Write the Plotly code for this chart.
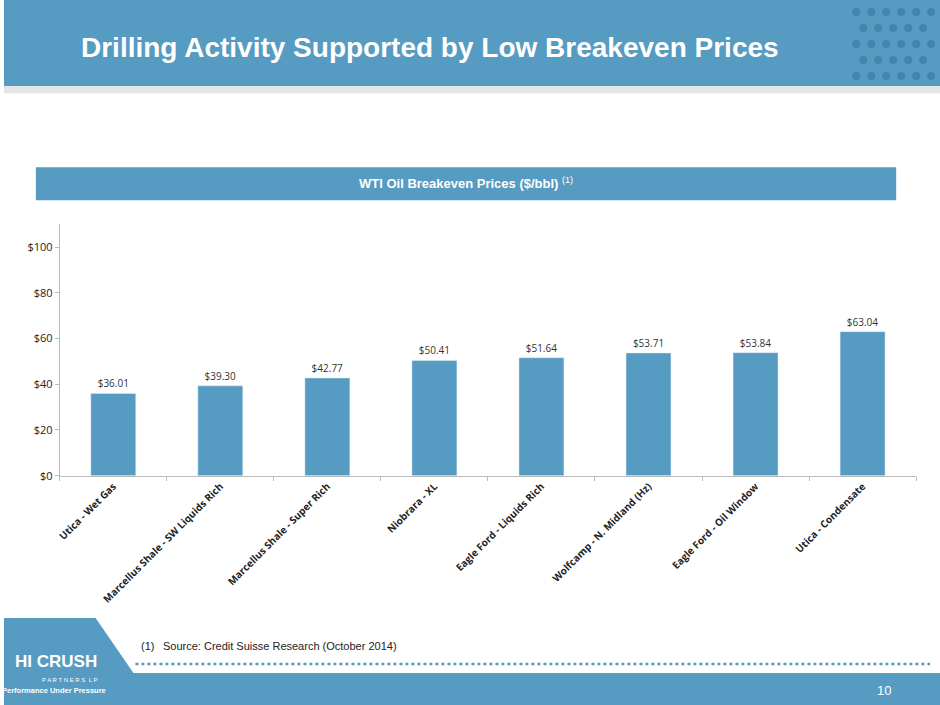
import plotly.graph_objects as go

categories = [
    "Utica - Wet Gas",
    "Marcellus Shale - SW Liquids Rich",
    "Marcellus Shale - Super Rich",
    "Niobrara - XL",
    "Eagle Ford - Liquids Rich",
    "Wolfcamp - N. Midland (Hz)",
    "Eagle Ford - Oil Window",
    "Utica - Condensate",
]
prices = [36.01, 39.30, 42.77, 50.41, 51.64, 53.71, 53.84, 63.04]
y_ticks = [0, 20, 40, 60, 80, 100]

BLUE = "#569BC1"
W, H = 940, 705
FIG_H = 713  # the page is photographed slightly squeezed

fig = go.Figure(
    go.Bar(
        x=categories,
        y=prices,
        marker_color=BLUE,
        width=0.42,
        text=[f"${v:.2f}" for v in prices],
        textposition="outside",
        textfont=dict(family="Open Sans", size=10, color="#333"),
        cliponaxis=False,
    )
)

shapes = [
    # header band with shadow
    dict(type="rect", xref="paper", yref="paper", x0=0, x1=1, y0=1 - 93 / H, y1=1 - 84 / H,
         fillcolor="rgba(0,0,0,0.10)", line_width=0, layer="below"),
    dict(type="rect", xref="paper", yref="paper", x0=0, x1=1, y0=1 - 86 / H, y1=1,
         fillcolor=BLUE, line_width=0, layer="below"),
    # subtitle box
    dict(type="rect", xref="paper", yref="paper", x0=32 / W, x1=896 / W, y0=1 - 200 / H, y1=1 - 167 / H,
         fillcolor=BLUE, line_width=0, layer="below"),
    # footer
    dict(type="path", xref="paper", yref="paper",
         path=f"M 0 {1 - 617 / H} L {92 / W} {1 - 617 / H} L {130 / W} {1 - 672 / H} L 1 {1 - 672 / H} L 1 0 L 0 0 Z",
         fillcolor=BLUE, line_width=0, layer="below"),
    dict(type="line", xref="paper", yref="paper", x0=132 / W, x1=930 / W, y0=1 - 663 / H, y1=1 - 663 / H,
         line=dict(color=BLUE, width=2.5, dash="dot")),
]
# decorative dots in header
for col in range(6):
    for row in range(5):
        cx = 856 + col * 15 + (row % 2) * 7
        cy = 12 + row * 16
        if cx < 935:
            shapes.append(dict(type="circle", xref="paper", yref="paper",
                               x0=(cx - 4) / W, x1=(cx + 4) / W, y0=1 - (cy + 4) / H, y1=1 - (cy - 4) / H,
                               fillcolor="rgba(40,100,140,0.40)", line_width=0))

annotations = [
    dict(text="<b>Drilling Activity Supported by Low Breakeven Prices</b>", x=428 / W, y=1 - 47 / H,
         font=dict(family="Liberation Sans", size=28, color="white")),
    dict(text="<b>WTI Oil Breakeven Prices ($/bbl)</b> <sup>(1)</sup>", x=464 / W, y=1 - 183 / H,
         font=dict(family="Liberation Sans", size=13, color="white")),
    dict(text="(1)", x=136 / W, y=1 - 645 / H, xanchor="left",
         font=dict(family="Liberation Sans", size=11, color="#222")),
    dict(text="Source: Credit Suisse Research (October 2014)", x=158 / W, y=1 - 645 / H, xanchor="left",
         font=dict(family="Liberation Sans", size=11, color="#222")),
    dict(text="<b>HI CRUSH</b>", x=52 / W, y=1 - 661 / H,
         font=dict(family="Liberation Sans", size=17, color="white")),
    dict(text="P A R T N E R S  L P", x=66 / W, y=1 - 679 / H,
         font=dict(family="Liberation Sans", size=6, color="white")),
    dict(text="<b>Performance Under Pressure</b>", x=50 / W, y=1 - 690 / H,
         font=dict(family="Liberation Sans", size=7.5, color="white")),
    dict(text="10", x=884 / W, y=1 - 690 / H,
         font=dict(family="Liberation Sans", size=13, color="white")),
]
for a in annotations:
    a.setdefault("xanchor", "center")
    a.update(xref="paper", yref="paper", showarrow=False, yanchor="middle")

fig.update_layout(
    width=W,
    height=FIG_H,
    margin=dict(l=0, r=0, t=0, b=0),
    paper_bgcolor="white",
    plot_bgcolor="white",
    showlegend=False,
    shapes=shapes,
    annotations=annotations,
    xaxis=dict(
        domain=[56 / W, 916 / W],
        tickangle=-45,
        tickfont=dict(family="Open Sans", size=10, color="#222", weight="bold"),
        showline=True,
        linecolor="#bbb",
        ticks="outside",
        tickson="boundaries",
        tickcolor="#bbb",
        ticklen=4,
    ),
    yaxis=dict(
        domain=[(H - 475) / H, (H - 224) / H],
        range=[0, 110],
        tickvals=y_ticks,
        ticktext=[f"${v}" for v in y_ticks],
        tickfont=dict(family="Open Sans", size=11, color="#222"),
        showgrid=False,
        showline=True,
        linecolor="#bbb",
        zeroline=False,
        ticks="outside",
        tickcolor="#bbb",
        ticklen=4,
    ),
)

fig.write_html(
    "out.html",
    config={"displayModeBar": False},
    post_script="document.body.style.margin='0';document.body.style.overflow='hidden';",
)
